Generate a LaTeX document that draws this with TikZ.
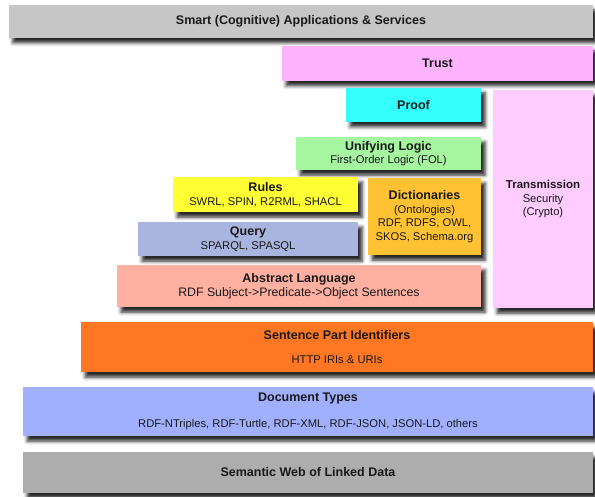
\documentclass[tikz,border=0pt]{standalone}
\usepackage{fontspec}
\setmainfont{Liberation Sans}
\usetikzlibrary{shadows.blur}
\definecolor{smartgray}{HTML}{C6C6C6}
\definecolor{trustpink}{HTML}{FFB3FF}
\definecolor{proofcyan}{HTML}{33FFFF}
\definecolor{transpink}{HTML}{FFCCFF}
\definecolor{logicgreen}{HTML}{A6F5A0}
\definecolor{rulesyellow}{HTML}{FFFF33}
\definecolor{dictorange}{HTML}{FFC233}
\definecolor{queryblue}{HTML}{A9B5DF}
\definecolor{abstractsalmon}{HTML}{FFB0A0}
\definecolor{partorange}{HTML}{FF7722}
\definecolor{docblue}{HTML}{A0B0FF}
\definecolor{webgray}{HTML}{ADADAD}
\newcommand{\lname}[1]{{\bfseries\fontsize{12.5}{14}\selectfont #1}}
\begin{document}
\begin{tikzpicture}[x=1pt,y=-1pt,
  layer/.style={fill=#1,inner sep=0pt,align=center,text=black!90,
    font=\fontsize{11.2}{13.5}\selectfont,
    blur shadow={shadow xshift=4pt,shadow yshift=-5pt,
      shadow blur radius=3.5pt,shadow opacity=85}}]

  \useasboundingbox (0,0) rectangle (595,497);

  \node[layer=smartgray,minimum width=584,minimum height=33] (smart) at (301,21.5)
    {\lname{Smart (Cognitive) Applications \& Services}};
  \node[layer=trustpink,minimum width=311,minimum height=35] (trust) at (437.5,63.5)
    {\lname{Trust}};
  \node[layer=proofcyan,minimum width=135,minimum height=34] (proof) at (413.5,105)
    {\lname{Proof}};
  \node[layer=transpink,minimum width=100,minimum height=218] (trans) at (543,199)
    {{\bfseries\fontsize{11.5}{14}\selectfont Transmission}\\Security\\(Crypto)};
  \node[layer=logicgreen,minimum width=185,minimum height=33] (logic) at (388.5,153.5)
    {\lname{Unifying Logic}\\First-Order Logic (FOL)};
  \node[layer=rulesyellow,minimum width=185,minimum height=35] (rules) at (265.5,194.5)
    {\lname{Rules}\\SWRL, SPIN, R2RML, SHACL};
  \node[layer=dictorange,minimum width=113,minimum height=77] (dict) at (424.5,216.5)
    {\lname{Dictionaries}\\(Ontologies)\\RDF, RDFS, OWL,\\SKOS, Schema.org};
  \node[layer=queryblue,minimum width=220,minimum height=34] (query) at (248,239)
    {\lname{Query}\\SPARQL, SPASQL};
  \node[layer=abstractsalmon,minimum width=364,minimum height=42] (abstract) at (299,286)
    {\lname{Abstract Language}\\{\fontsize{12.3}{14}\selectfont RDF Subject->Predicate->Object Sentences}};
  \node[layer=partorange,minimum width=512,minimum height=50] (parts) at (337,347)
    {\lname{Sentence Part Identifiers}\\[10pt]HTTP IRIs \& URIs};
  \node[layer=docblue,minimum width=570,minimum height=49] (docs) at (308,411.5)
    {\lname{Document Types}\\[13pt]RDF-NTriples, RDF-Turtle, RDF-XML, RDF-JSON, JSON-LD, others};
  \node[layer=webgray,minimum width=570,minimum height=41] (web) at (308,472.5)
    {\lname{Semantic Web of Linked Data}};
\end{tikzpicture}
\end{document}
